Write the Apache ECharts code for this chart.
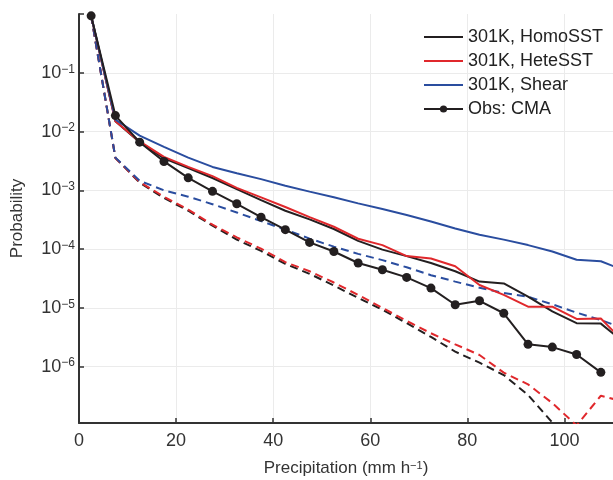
<!DOCTYPE html>
<html>
<head>
<meta charset="utf-8">
<script src="https://cdn.jsdelivr.net/npm/echarts@6/dist/echarts.min.js"></script>
<style>
  html, body { margin: 0; padding: 0; background: #fff; }
  #main_chart { width: 613px; height: 480px; }
</style>
</head>
<body>
<div id="main_chart"></div>
<script>
// bin centres (mm/h)
const precipBins = [2.5, 7.5, 12.5, 17.5, 22.5, 27.5, 32.5, 37.5, 42.5, 47.5, 52.5, 57.5,
    62.5, 67.5, 72.5, 77.5, 82.5, 87.5, 92.5, 97.5, 102.5, 107.5, 112.5];

// solid lines
const homoSST = [0.93, 0.015, 0.0066, 0.0035, 0.0024, 0.00162, 0.00105, 0.00068, 0.00045, 0.00032,
    0.00022, 0.000138, 9.8e-5, 7.6e-5, 5.8e-5, 4.2e-5, 2.8e-5, 2.6e-5, 1.55e-5, 8.7e-6, 5.5e-6, 5.4e-6, 2.5e-6];
const heteSST = [0.93, 0.015, 0.0068, 0.0037, 0.0025, 0.00174, 0.0011, 0.00076, 0.00052, 0.00035,
    0.00024, 0.00015, 0.000117, 7.6e-5, 6.9e-5, 5.1e-5, 2.45e-5, 1.66e-5, 1.05e-5, 1.05e-5, 6.5e-6, 6.6e-6, 2.5e-6];
const shear = [0.93, 0.016, 0.0085, 0.0055, 0.0036, 0.0025, 0.00195, 0.00155, 0.0012, 0.00095,
    0.00076, 0.0006, 0.00048, 0.00038, 0.000295, 0.000224, 0.000175, 0.000145, 0.000117, 9.1e-5, 6.6e-5, 6.2e-5, 4.3e-5];
const obsCMA = [0.93, 0.0187, 0.0066, 0.0031, 0.00163, 0.00096, 0.00059, 0.00035, 0.000214, 0.00013,
    9.1e-5, 5.8e-5, 4.45e-5, 3.3e-5, 2.17e-5, 1.13e-5, 1.32e-5, 8.1e-6, 2.4e-6, 2.15e-6, 1.61e-6, 8.0e-7];

// dashed lines (no legend entry)
const homoDashed = [0.93, 0.00355, 0.00135, 0.00074, 0.00045, 0.00025, 0.000145, 9.3e-5, 5.6e-5, 3.8e-5,
    2.4e-5, 1.48e-5, 9.3e-6, 5.5e-6, 3.2e-6, 1.8e-6, 1.17e-6, 7.2e-7, 3.3e-7, 1.12e-7, 4e-8];
const heteDashed = [0.93, 0.00355, 0.00138, 0.00078, 0.00047, 0.00026, 0.000158, 0.000102, 6.0e-5, 4.2e-5,
    2.7e-5, 1.66e-5, 1.0e-5, 6.0e-6, 3.7e-6, 2.4e-6, 1.58e-6, 7.9e-7, 5.0e-7, 2.4e-7, 1.0e-7, 3.2e-7, 2.5e-7];
const shearDashed = [0.93, 0.0036, 0.00145, 0.001, 0.00078, 0.00058, 0.00042, 0.0003, 0.000214, 0.000151,
    0.00011, 8.3e-5, 6.5e-5, 4.9e-5, 3.6e-5, 2.8e-5, 2.2e-5, 1.8e-5, 1.55e-5, 1.15e-5, 8.3e-6, 6.2e-6, 4.4e-6];

const xTicks = [0, 20, 40, 60, 80, 100];
const legendNames = ['301K, HomoSST', '301K, HeteSST', '301K, Shear', 'Obs: CMA'];

const cBlack = '#231f20';
const cRed = '#e0282c';
const cBlue = '#2a4d9f';
const fontFam = 'Liberation Sans, Arial, sans-serif';
// plain line for legend items without markers
const lineIcon = 'path://M0,0h39v2h-39z';

function pairs(vals) {
    return vals.map(function (v, i) { return [precipBins[i], v]; });
}

function lineSeries(name, vals, color, dashed) {
    return {
        name: name,
        type: 'line',
        data: pairs(vals),
        symbol: 'none',
        clip: true,
        lineStyle: { color: color, width: 2, type: dashed ? [8, 5] : 'solid' },
        itemStyle: { color: color },
        emphasis: { disabled: true }
    };
}

const myChart = echarts.init(document.getElementById('main_chart'));

var option = {
    animation: false,
    backgroundColor: '#fff',
    textStyle: { fontFamily: fontFam },
    grid: { left: 79, right: 0, top: 14, bottom: 57, containLabel: false, outerBoundsMode: 'none' },
    legend: {
        data: [
            { name: legendNames[0], icon: lineIcon },
            { name: legendNames[1], icon: lineIcon },
            { name: legendNames[2], icon: lineIcon },
            { name: legendNames[3] }
        ],
        orient: 'vertical',
        left: 423,
        top: 27,
        padding: 0,
        itemWidth: 39,
        itemHeight: 9,
        itemGap: 4,
        textStyle: { fontSize: 18, color: '#222', fontFamily: fontFam, lineHeight: 20 }
    },
    xAxis: {
        type: 'value',
        min: 0,
        max: 110,
        interval: 20,
        name: '{a|Precipitation (mm h}{s|\u22121}{a|)}',
        nameLocation: 'middle',
        nameGap: 37,
        nameTextStyle: {
            rich: {
                a: { fontSize: 17, color: '#333', fontFamily: fontFam },
                s: { fontSize: 11, color: '#333', fontFamily: fontFam, verticalAlign: 'top', padding: [0, 0, 6, 0] }
            }
        },
        axisLine: { lineStyle: { color: '#333', width: 2 } },
        axisTick: { inside: true, length: 5, lineStyle: { color: '#333', width: 1.5 } },
        axisLabel: {
            fontSize: 18, color: '#333', margin: 9, showMaxLabel: false,
            formatter: function (v) { return xTicks.indexOf(v) >= 0 ? String(v) : ''; }
        },
        splitLine: { show: true, lineStyle: { color: '#ebebeb', width: 1 } }
    },
    yAxis: {
        type: 'log',
        logBase: 10,
        min: 1.1e-7,
        max: 1,
        name: 'Probability',
        nameLocation: 'middle',
        nameGap: 53,
        nameTextStyle: { fontSize: 17, color: '#333' },
        axisLine: { lineStyle: { color: '#333', width: 2 } },
        axisTick: { inside: true, length: 5, lineStyle: { color: '#333', width: 1.5 } },
        axisLabel: {
            margin: 4,
            formatter: function (v) {
                var e = Math.log10(v);
                var r = Math.round(e);
                if (Math.abs(e - r) > 0.01 || r >= 0 || r <= -7) return '';
                return '{b|10}{s|\u2212' + (-r) + '}';
            },
            rich: {
                b: { fontSize: 18, color: '#333', fontFamily: fontFam },
                s: { fontSize: 12, color: '#333', fontFamily: fontFam, verticalAlign: 'top', padding: [0, 0, 7, 0] }
            }
        },
        splitLine: { show: true, showMaxLine: false, lineStyle: { color: '#ebebeb', width: 1 } }
    },
    series: [
        lineSeries('dash-homo', homoDashed, cBlack, true),
        lineSeries('dash-hete', heteDashed, cRed, true),
        lineSeries('dash-shear', shearDashed, cBlue, true),
        lineSeries(legendNames[0], homoSST, cBlack, false),
        lineSeries(legendNames[1], heteSST, cRed, false),
        lineSeries(legendNames[2], shear, cBlue, false),
        {
            name: legendNames[3],
            type: 'line',
            data: pairs(obsCMA),
            symbol: 'circle',
            symbolSize: 9,
            clip: true,
            lineStyle: { color: cBlack, width: 2 },
            itemStyle: { color: cBlack },
            emphasis: { disabled: true }
        }
    ]
};

myChart.setOption(option);
window.onresize = function () {
    myChart.resize();
};
</script>
</body>
</html>
